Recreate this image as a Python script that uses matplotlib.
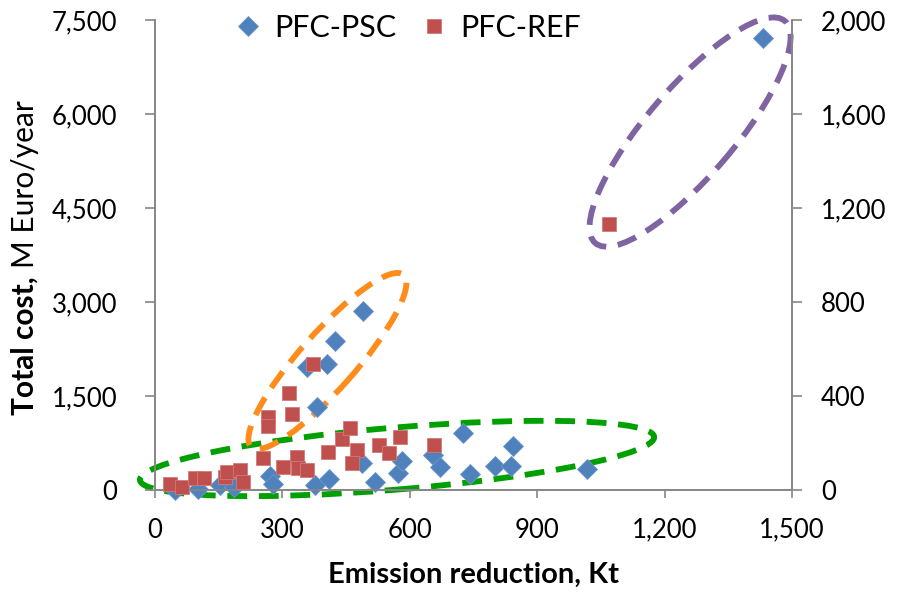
import numpy as np
import matplotlib
matplotlib.use('Agg')
import matplotlib.pyplot as plt
import matplotlib.transforms as mtransforms
from matplotlib.patches import Ellipse
from matplotlib.ticker import FuncFormatter

plt.rcParams['font.family'] = ['Lato', 'DejaVu Sans']

# PFC-PSC (left axis, M Euro/year)
psc_x = [47, 101, 153, 186, 271, 278, 377, 410, 487, 518, 572, 582, 655, 671,
         725, 742, 801, 838, 843, 1017, 381, 358, 405, 424, 490, 1432]
psc_y = [5, 15, 80, 48, 223, 96, 80, 176, 431, 128, 271, 463, 559, 367,
         910, 255, 383, 383, 702, 335, 1324, 1963, 2011, 2378, 2856, 7213]

# PFC-REF (right axis)
ref_x = [35, 64, 94, 115, 165, 170, 200, 207, 254, 266, 266, 301, 316, 323,
         334, 337, 358, 372, 407, 440, 459, 476, 464, 527, 551, 577, 657, 1069]
ref_y = [26, 13, 51, 51, 55, 77, 85, 34, 136, 311, 272, 98, 413, 323,
         140, 94, 85, 536, 162, 217, 264, 170, 115, 191, 157, 226, 191, 1132]

# highlight ellipses: centre (x, left y), half axes in pixels, angle, colour
ell_cx = [570, 406, 1260]
ell_cy = [503, 2058, 5712]
ell_a = [258, 115, 146]
ell_b = [31, 28, 44]
ell_ang = [4.8, 48.5, 49.5]
ell_col = ['#00A000', '#FF8C1A', '#8064A2']

xticks = [0, 300, 600, 900, 1200, 1500]
yticks_left = [0, 1500, 3000, 4500, 6000, 7500]
yticks_right = [0, 400, 800, 1200, 1600, 2000]

fig = plt.figure(figsize=(8.97, 5.98), dpi=100)
ax = fig.add_axes([155 / 897, 1 - 490 / 598, 637 / 897, 470 / 598])
ax2 = ax.twinx()

comma = FuncFormatter(lambda v, p: '{:,.0f}'.format(v))
grey = '#868686'

ax.set_xlim(0, 1500)
ax.set_ylim(0, 7500)
ax2.set_ylim(0, 2000)
ax.set_xticks(xticks)
ax.set_yticks(yticks_left)
ax2.set_yticks(yticks_right)
for a in (ax, ax2):
    a.xaxis.set_major_formatter(comma)
    a.yaxis.set_major_formatter(comma)
    a.spines['top'].set_visible(False)
    for s in ('left', 'right', 'bottom'):
        a.spines[s].set_color(grey)
        a.spines[s].set_linewidth(1.2)
ax.tick_params(axis='y', direction='out', length=7, width=1.2, color=grey,
               labelsize=18.5, pad=20)
ax.tick_params(axis='x', direction='out', length=6, width=1.2, color=grey,
               labelsize=18.5, pad=14)
ax2.tick_params(axis='y', direction='out', length=7, width=1.2, color=grey,
                labelsize=18.5, pad=14)

for i in range(len(ell_cx)):
    tr = fig.dpi_scale_trans + mtransforms.ScaledTranslation(ell_cx[i], ell_cy[i], ax.transData)
    e = Ellipse((0, 0), 2 * ell_a[i] / 100, 2 * ell_b[i] / 100, angle=ell_ang[i],
                transform=tr, fill=False, edgecolor=ell_col[i], linewidth=4.2,
                linestyle=(0, (3.4, 2.0)), zorder=1, clip_on=False)
    ax.add_patch(e)

l1, = ax.plot(psc_x, psc_y, 'D', color='#4F81BD', markeredgecolor='#6E97C9',
              markeredgewidth=0.6, markersize=9.7, label='PFC-PSC', zorder=3, clip_on=False)
l2, = ax2.plot(ref_x, ref_y, 's', color='#C0504D', markeredgecolor='#D07A78',
               markeredgewidth=0.6, markersize=10.5, label='PFC-REF', zorder=3, clip_on=False)

ax.set_xlabel('Emission reduction, Kt', fontsize=21, fontweight='bold', labelpad=14)

# y label: bold first part, regular second part
renderer = fig.canvas.get_renderer()
t1 = fig.text(34 / 897, 1 - 415 / 598, 'Total cost,', rotation=90, rotation_mode='anchor',
              ha='left', va='baseline', fontsize=21.5, fontweight='bold')
bb = t1.get_window_extent(renderer)
fig.text(34 / 897, (bb.y1 + 8) / fig.bbox.height, 'M Euro/year', rotation=90,
         rotation_mode='anchor', ha='left', va='baseline', fontsize=21.5)

ax2.legend([l1, l2], ['PFC-PSC', 'PFC-REF'], loc='center', bbox_to_anchor=(0.395, 0.983),
           ncol=2, frameon=False, fontsize=22, handlelength=1.0, handletextpad=0.35,
           columnspacing=0.75)

fig.savefig('out.png', dpi=100)
